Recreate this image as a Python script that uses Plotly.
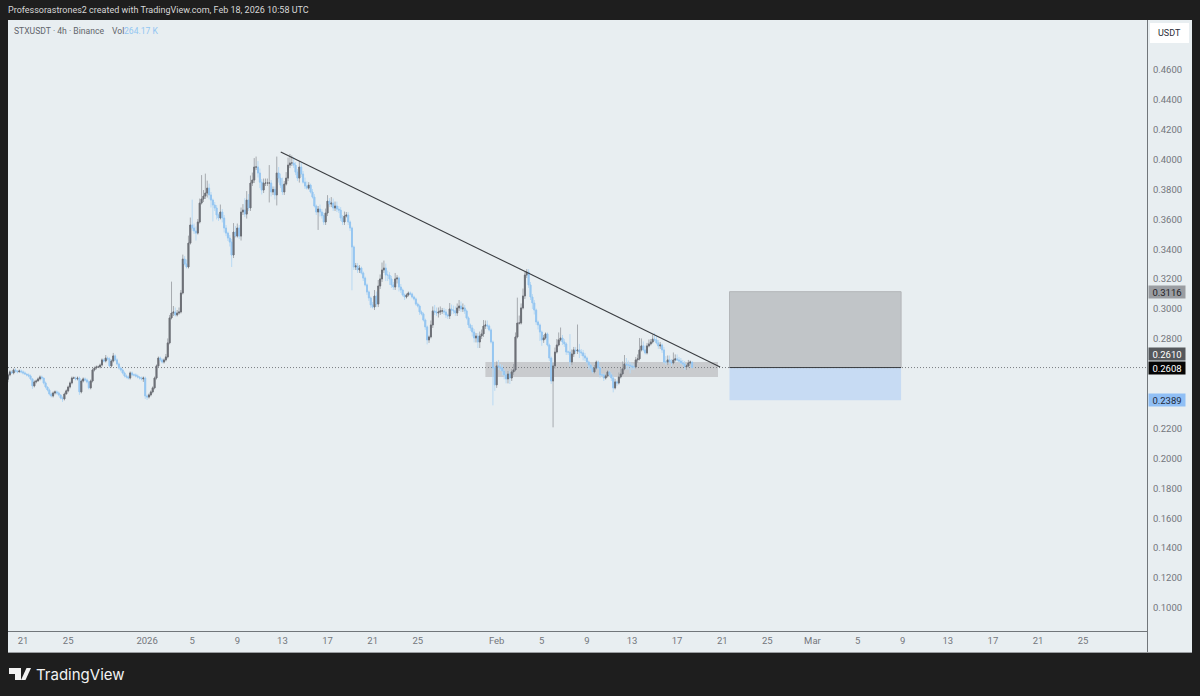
#!/usr/bin/env python3
"""STXUSDT 4h chart, TradingView snapshot look"""

import pandas as pd
import plotly.graph_objects as go

first_open = 0.2530

# 4h closes, one row per day, starts 2025-12-19 16:00
closes = [
    .2559, .2579,
    .2572, .2592, .2585, .2579, .2585, .2579,
    .2572, .2565, .2559, .2552, .2532, .2485,
    .2512, .2518, .2532, .2545, .2538, .2505,
    .2478, .2458, .2431, .2418, .2438, .2445,
    .2438, .2425, .2405, .2398, .2431, .2452,
    .2478, .2505, .2538, .2538, .2532, .2538,
    .2445, .2518, .2532, .2525, .2512, .2472,
    .2518, .2592, .2605, .2612, .2612, .2625,
    .2659, .2652, .2672, .2666, .2619, .2652,
    .2686, .2659, .2632, .2605, .2592, .2572,
    .2552, .2545, .2538, .2572, .2559, .2559,
    .2552, .2545, .2538, .2532, .2538, .2418,
    .2411, .2425, .2445, .2472, .2538, .2619,
    .2672, .2659, .2645, .2659, .2679, .2773,
    .2940, .2973, .2980, .2960, .2973, .2980,
    .3107, .3334, .3301, .3281, .3441, .3562,
    .3542, .3522, .3508, .3582, .3709, .3736,
    .3756, .3776, .3809, .3763, .3729, .3696,
    .3676, .3629, .3609, .3649, .3609, .3542,
    .3508, .3475, .3448, .3361, .3515, .3488,
    .3542, .3488, .3649, .3662, .3635, .3729,
    .3676, .3843, .3863, .3950, .3950, .3910,
    .3849, .3796, .3843, .3843, .3843, .3843,
    .3783, .3800, .3763, .3910, .3876, .3829, .3783,
    .3836, .3876, .3963, .3977, .3977, .3963,
    .3916, .3876, .3950, .3903, .3849, .3823,
    .3809, .3829, .3783, .3749, .3689, .3649,
    .3669, .3649, .3625, .3582, .3642, .3722, .3702,
    .3709, .3676, .3689, .3669, .3662, .3609,
    .3582, .3622, .3629, .3582, .3542, .3415,
    .3281, .3288, .3261, .3274, .3241, .3207,
    .3161, .3114, .3074, .3027, .3013, .3087,
    .3033, .3154, .3201, .3261, .3274, .3227,
    .3227, .3201, .3161, .3147, .3201, .3207,
    .3147, .3127, .3094, .3080, .3094, .3107,
    .3100, .3080, .3067, .3033, .3020, .2980,
    .2967, .2926, .2880, .2793, .2813, .2893,
    .2987, .2980, .2973, .2980, .2987, .2987,
    .2980, .2960, .2953, .3000, .2993, .2987,
    .2973, .3007, .3020, .3000, .3007, .2987,
    .2940, .2893, .2873, .2846, .2806, .2819,
    .2779, .2819, .2833, .2886, .2893, .2886,
    .2860, .2779, .2605, .2492, .2619, .2612,
    .2605, .2585, .2559, .2532, .2565, .2538,
    .2579, .2592, .2813, .2906, .2906, .3007,
    .3087, .3227, .3247, .3161, .3080, .3040,
    .2993, .2913, .2893, .2846, .2793, .2806,
    .2833, .2759, .2672, .2518, .2619, .2712,
    .2759, .2793, .2806, .2779, .2766, .2712,
    .2712, .2645, .2699, .2726, .2719, .2726,
    .2712, .2706, .2686, .2672, .2645, .2625,
    .2605, .2579, .2605, .2645, .2605, .2559,
    .2559, .2538, .2552, .2579, .2559, .2538,
    .2472, .2512, .2505, .2545, .2565, .2599,
    .2632, .2625, .2625, .2619, .2612, .2612,
    .2659, .2666, .2726, .2753, .2726, .2706,
    .2753, .2766, .2779, .2799, .2793, .2773,
    .2753, .2759, .2726, .2645, .2645, .2659,
    .2645, .2639, .2659, .2666, .2659, .2652,
    .2639, .2632, .2612, .2619, .2639,
    .2645, .2608,
]

# wick lengths above / below the body, in 0.001 USDT
wick_up = [
    1, 1,
    1, 1, 1, 0, 1, 1,
    1, 1, 0, 1, 1, 0,
    1, 1, 1, 1, 1, 0,
    1, 0, 1, 1, 1, 1,
    1, 1, 0, 1, 1, 1,
    1, 1, 1, 1, 1, 1,
    1, 1, 1, 1, 1, 1,
    1, 1, 1, 1, 1, 1,
    1, 1, 2, 1, 1, 1,
    2, 1, 1, 1, 1, 1,
    1, 1, 1, 1, 1, 1,
    1, 1, 0, 1, 1, 1,
    1, 1, 1, 1, 1, 1,
    1, 1, 1, 1, 2, 3,
    2, 21, 4, 3, 2, 3,
    2, 3, 2, 3, 5, 5,
    17, 3, 3, 2, 3, 16,
    4, 13, 5, 3, 2, 1,
    2, 2, 1, 5, 2, 2,
    2, 1, 2, 2, 6, 4,
    3, 2, 3, 4, 8, 6,
    4, 5, 5, 6, 7, 4,
    3, 2, 3, 3, 3, 12,
    2, 2, 2, 11, 4, 3, 5,
    2, 4, 5, 6, 5, 4,
    2, 2, 4, 3, 2, 3,
    3, 2, 1, 2, 2, 1,
    2, 3, 2, 2, 3, 4, 2,
    4, 3, 3, 3, 2, 2,
    2, 3, 2, 2, 1, 1,
    1, 2, 2, 2, 1, 1,
    1, 1, 1, 1, 2, 4,
    3, 4, 3, 5, 5, 3,
    3, 2, 2, 2, 4, 2,
    1, 2, 1, 1, 1, 1,
    1, 1, 1, 1, 1, 1,
    1, 1, 1, 1, 1, 3,
    3, 4, 3, 3, 3, 2,
    2, 2, 1, 4, 3, 3,
    3, 3, 4, 3, 3, 2,
    1, 1, 1, 2, 2, 2,
    2, 3, 3, 4, 3, 3,
    1, 1, 1, 1, 3, 4,
    2, 2, 1, 1, 2, 2,
    2, 4, 3, 17, 5, 3,
    5, 2, 2, 2, 2, 2,
    2, 1, 1, 1, 1, 2,
    1, 1, 1, 1, 2, 3,
    4, 5, 7, 2, 2, 1,
    1, 12, 3, 2, 2, 17,
    4, 2, 2, 2, 1, 1,
    1, 1, 2, 1, 1, 1,
    1, 1, 1, 1, 1, 1,
    1, 2, 1, 3, 4, 5,
    6, 4, 3, 2, 2, 2,
    2, 3, 8, 5, 3, 3,
    2, 3, 2, 3, 4, 3,
    2, 2, 1, 2, 4, 3,
    3, 2, 5, 3, 3, 2,
    2, 2, 2, 1, 2,
    1, 0,
]
wick_down = [
    2, 1,
    0, 1, 1, 1, 0, 1,
    1, 0, 1, 1, 1, 2,
    1, 1, 0, 1, 1, 1,
    1, 1, 1, 1, 1, 1,
    1, 1, 1, 2, 1, 0,
    1, 1, 1, 0, 1, 1,
    2, 1, 1, 1, 1, 1,
    1, 1, 1, 1, 0, 1,
    1, 1, 1, 1, 1, 1,
    1, 1, 1, 1, 1, 1,
    1, 1, 1, 1, 1, 1,
    1, 1, 1, 1, 2, 2,
    2, 1, 1, 1, 1, 1,
    1, 1, 1, 1, 1, 1,
    1, 1, 2, 1, 1, 1,
    1, 1, 1, 1, 1, 1,
    2, 2, 5, 1, 1, 1,
    2, 2, 3, 3, 5, 11,
    2, 3, 2, 1, 3, 3,
    2, 2, 3, 8, 2, 1,
    1, 2, 3, 2, 2, 3,
    2, 2, 2, 2, 2, 3,
    4, 3, 2, 2, 2, 13,
    3, 2, 3, 7, 3, 2, 2,
    2, 1, 2, 2, 2, 2,
    2, 2, 3, 2, 1, 2,
    1, 1, 1, 1, 1, 2,
    12, 3, 2, 2, 2, 2, 2,
    2, 2, 2, 2, 2, 2,
    2, 2, 1, 2, 2, 29,
    2, 2, 2, 2, 1, 2,
    1, 2, 2, 2, 1, 2,
    2, 2, 2, 2, 2, 4,
    4, 4, 2, 2, 2, 3,
    3, 2, 1, 2, 1, 1,
    1, 1, 1, 1, 1, 2,
    1, 1, 2, 3, 2, 1,
    2, 2, 2, 3, 2, 2,
    2, 2, 2, 2, 3, 2,
    2, 2, 2, 2, 2, 2,
    1, 2, 2, 3, 3, 3,
    4, 4, 2, 2, 2, 2,
    1, 1, 25, 4, 2, 2,
    2, 3, 3, 3, 3, 4,
    2, 2, 1, 1, 1, 1,
    1, 2, 2, 2, 2, 4,
    3, 2, 3, 6, 4, 2,
    1, 1, 2, 2, 31, 2,
    1, 1, 1, 2, 2, 2,
    2, 3, 2, 2, 2, 2,
    4, 2, 3, 2, 1, 3,
    1, 1, 1, 1, 1, 2,
    1, 2, 1, 1, 1, 2,
    3, 1, 2, 1, 1, 1,
    1, 3, 3, 5, 2, 2,
    1, 2, 1, 1, 1, 1,
    1, 1, 1, 1, 1, 1,
    2, 2, 2, 1, 2, 2,
    1, 2, 1, 1, 1, 1,
    1, 1, 2, 2, 1,
    1, 0,
]

# drawings on the chart
trend_x = ["2026-01-12 20:30", "2026-02-20 19:30"]
trend_y = [0.4050, 0.2612]
zone_x = ["2026-01-31 00:00", "2026-02-20 15:00"]
zone_y = [0.2545, 0.2645]
position_x = ["2026-02-21 15:30", "2026-03-08 20:40"]
entry_price = 0.2608
target_price = 0.3116
stop_price = 0.2389

time_range = ["2025-12-19 16:00", "2026-03-30 16:00"]
price_range = [0.0845, 0.4934]
price_ticks = [0.10, 0.12, 0.14, 0.16, 0.18, 0.20, 0.22, 0.28, 0.30, 0.32,
               0.34, 0.36, 0.38, 0.40, 0.42, 0.44, 0.46]
time_ticks = ["2025-12-21", "2025-12-25", "2026-01-01", "2026-01-05", "2026-01-09",
              "2026-01-13", "2026-01-17", "2026-01-21", "2026-01-25", "2026-02-01",
              "2026-02-05", "2026-02-09", "2026-02-13", "2026-02-17", "2026-02-21",
              "2026-02-25", "2026-03-01", "2026-03-05", "2026-03-09", "2026-03-13",
              "2026-03-17", "2026-03-21", "2026-03-25"]
time_labels = ["21", "25", "2026", "5", "9", "13", "17", "21", "25", "Feb", "5", "9",
               "13", "17", "21", "25", "Mar", "5", "9", "13", "17", "21", "25"]

DARK = "#1e1e1e"
PANEL = "#e8eef1"
UP = "#6c6f76"
DOWN = "#96c6f1"
UP_WICK = "#a6aaaf"
DOWN_WICK = "#b8d9f3"
TICK = "#73767c"
BORDER = "#71767a"
FONT = "Roboto"

# plot area in page pixels
LEFT, RIGHT, TOP, BOTTOM = 8, 1147, 20, 631


def px(x):
    return (x - LEFT) / (RIGHT - LEFT)


def py(y):
    return (BOTTOM - y) / (BOTTOM - TOP)


df = pd.DataFrame({"close": closes})
df["time"] = pd.date_range(time_range[0], periods=len(df), freq="4h")
df["open"] = [first_open] + closes[:-1]
df["top"] = df[["open", "close"]].max(axis=1)
df["bottom"] = df[["open", "close"]].min(axis=1)
df["high"] = df["top"] + pd.Series(wick_up) * 0.001
df["low"] = df["bottom"] - pd.Series(wick_down) * 0.001

fig = go.Figure()

# wicks first, lighter, then the bodies on top
fig.add_trace(go.Candlestick(
    x=df["time"], open=df["open"], high=df["high"], low=df["low"], close=df["close"],
    increasing=dict(line=dict(color=UP_WICK, width=1), fillcolor=UP_WICK),
    decreasing=dict(line=dict(color=DOWN_WICK, width=1), fillcolor=DOWN_WICK),
    showlegend=False, hoverinfo="skip",
))
fig.add_trace(go.Candlestick(
    x=df["time"], open=df["open"], high=df["top"], low=df["bottom"], close=df["close"],
    increasing=dict(line=dict(color=UP, width=1), fillcolor=UP),
    decreasing=dict(line=dict(color=DOWN, width=1), fillcolor=DOWN),
    showlegend=False, hoverinfo="skip",
))
fig.add_trace(go.Scatter(
    x=trend_x, y=trend_y, mode="lines",
    line=dict(color="#3a3d41", width=1.1), showlegend=False, hoverinfo="skip",
))

# support zone and long position box
fig.add_shape(type="rect", x0=zone_x[0], x1=zone_x[1], y0=zone_y[0], y1=zone_y[1],
              fillcolor="#c9cbce", line_width=0, layer="below")
fig.add_shape(type="rect", x0=position_x[0], x1=position_x[1], y0=entry_price, y1=target_price,
              fillcolor="#c1c5c8", line=dict(color="#b3b6b9", width=1), layer="below")
fig.add_shape(type="rect", x0=position_x[0], x1=position_x[1], y0=stop_price, y1=entry_price,
              fillcolor="#c7dbf3", line_width=0, layer="below")

# last price line
fig.add_shape(type="line", x0=time_range[0], x1=time_range[1], y0=entry_price, y1=entry_price,
              line=dict(color="#7a7d82", width=1, dash="1px,2px"), layer="below")
fig.add_shape(type="line", x0=position_x[0], x1=position_x[1], y0=entry_price, y1=entry_price,
              line=dict(color="#3a3d42", width=1))

# axis panels and borders
fig.add_shape(type="rect", xref="paper", yref="paper", x0=px(LEFT), x1=px(1192), y0=py(652), y1=py(BOTTOM),
              fillcolor=PANEL, line_width=0, layer="below")
fig.add_shape(type="rect", xref="paper", yref="paper", x0=px(RIGHT), x1=px(1192), y0=py(652), y1=py(TOP),
              fillcolor=PANEL, line_width=0, layer="below")
fig.add_shape(type="line", xref="paper", yref="paper", x0=px(LEFT), x1=px(RIGHT), y0=py(631.5), y1=py(631.5),
              line=dict(color=BORDER, width=1))
fig.add_shape(type="line", xref="paper", yref="paper", x0=px(RIGHT + 0.5), x1=px(RIGHT + 0.5), y0=py(652), y1=py(TOP),
              line=dict(color=BORDER, width=1))
fig.add_shape(type="line", xref="paper", yref="paper", x0=px(LEFT), x1=px(1192), y0=py(652.5), y1=py(652.5),
              line=dict(color="#9a9da0", width=1))
fig.add_shape(type="rect", xref="paper", yref="paper", x0=px(1150), x1=px(1189), y0=py(43), y1=py(23),
              fillcolor="#ffffff", line_width=0)

# TradingView logo
for path in ["M 9 668 L 21 668 L 21 680 L 15 680 L 15 674 L 9 674 Z",
             "M 26.5 668 L 31 668 L 25.5 680 L 21 680 Z",
             "M 21.5 670.5 A 2 2 0 1 1 25.5 670.5 A 2 2 0 1 1 21.5 670.5 Z"]:
    parts = path.split()
    out = []
    i = 0
    while i < len(parts):
        if parts[i] in ("M", "L"):
            out += [parts[i], f"{float(parts[i + 1]) - LEFT:.1f},{BOTTOM - float(parts[i + 2]):.1f}"]
            i += 3
        elif parts[i] == "A":
            out += ["A", f"{parts[i + 1]},{parts[i + 2]}", parts[i + 3], f"{parts[i + 4]},{parts[i + 5]}",
                    f"{float(parts[i + 6]) - LEFT:.1f},{BOTTOM - float(parts[i + 7]):.1f}"]
            i += 8
        else:
            out.append(parts[i])
            i += 1
    fig.add_shape(type="path", xref="paper", yref="paper", xsizemode="pixel", ysizemode="pixel",
                  xanchor=0, yanchor=0, path=" ".join(out), fillcolor="#f2f2f2", line_width=0)


def note(text, x, y, size, color, anchor="left", family=FONT):
    fig.add_annotation(text=text, xref="paper", yref="paper", x=px(x), y=py(y), xanchor=anchor,
                       yanchor="middle", showarrow=False, font=dict(family=family, size=size, color=color))


def price_tag(value, bg, color, shift=0):
    fig.add_annotation(text=f"{value:.4f}", xref="paper", yref="y", x=px(RIGHT + 0.5), y=value,
                       xanchor="left", yanchor="middle", yshift=shift, showarrow=False,
                       width=36, height=12, bgcolor=bg, borderpad=0, align="center",
                       font=dict(family=FONT, size=9.5, color=color))


note("Professorastrones2 created with TradingView.com, Feb 18, 2026 10:58 UTC", 6, 10, 9, "#d8d8d8")
note("STXUSDT · 4h · Binance", 12, 31, 8.6, "#62656b")
note("Vol", 110, 31, 8.6, "#62656b")
note("264.17 K", 122, 31, 8.6, "#93c6f2")
note("USDT", 1169.5, 33, 9, "#2a2e39", anchor="center")
note("TradingView", 34, 674, 15, "#f2f2f2", family="Inter")

price_tag(target_price, "#9a9da2", "#1f2226")
price_tag(0.2610, "#55585c", "#ffffff", shift=13)
price_tag(entry_price, "#050505", "#ffffff")
price_tag(stop_price, "#90bff5", "#1f2a3a")

fig.update_layout(
    width=1200, height=696,
    margin=dict(l=LEFT, r=1200 - RIGHT, t=TOP, b=696 - BOTTOM),
    paper_bgcolor=DARK, plot_bgcolor=PANEL,
    font=dict(family=FONT, size=9.5, color=TICK),
    xaxis=dict(
        range=time_range, rangeslider=dict(visible=False),
        tickmode="array", tickvals=time_ticks, ticktext=time_labels,
        showgrid=False, zeroline=False, showline=False, ticks="outside", ticklen=1,
        tickcolor="rgba(0,0,0,0)", tickfont=dict(size=9.5, color=TICK), tickangle=0,
    ),
    yaxis=dict(
        range=price_range, side="right",
        tickmode="array", tickvals=price_ticks, ticktext=[f"{v:.4f}" for v in price_ticks],
        showgrid=False, zeroline=False, showline=False, ticks="outside", ticklen=3,
        tickcolor="rgba(0,0,0,0)", tickfont=dict(size=9.5, color=TICK),
    ),
)

fig.write_html("out.html", config={"displayModeBar": False},
               post_script="document.body.style.margin='0';document.body.style.overflow='hidden';")
